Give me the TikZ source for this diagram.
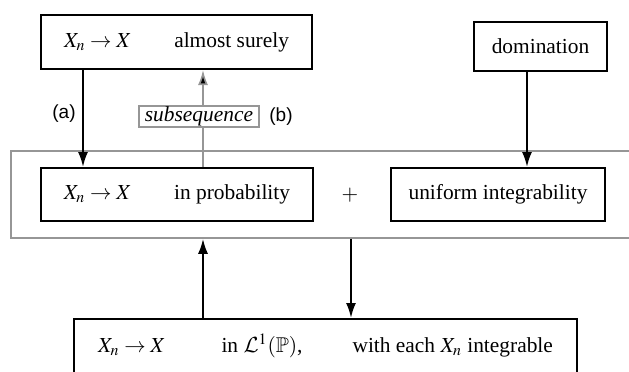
\documentclass[tikz,border=0pt]{standalone}
\usepackage{mathptmx}
\usepackage{amssymb}
\usepackage{fontspec}
\setmainfont{Liberation Serif}
\newfontfamily\labelsans{Liberation Sans}
\usetikzlibrary{arrows.meta}
\DeclareMathAlphabet{\mathcalcm}{OMS}{cmsy}{m}{n}
\definecolor{grayc}{RGB}{150,150,150}
\newcommand\mainfs{\fontsize{10.7}{13}\selectfont}
\newcommand\labfs{\labelsans\fontsize{9.5}{11}\selectfont}
\begin{document}
\begin{tikzpicture}[x=0.5pt,y=-0.5pt,
  box/.style={draw=black, line width=1pt, fill=white, inner sep=0pt, font=\mainfs},
  grayframe/.style={draw=grayc, line width=0.8pt, inner sep=0pt},
  arr/.style={line width=1pt, -{Latex[length=7.5pt,width=5pt]}},
  grayline/.style={draw=grayc, line width=0.8pt},
  grayarr/.style={draw=grayc, line width=0.8pt, -{Latex[length=7.5pt,width=5pt,fill=black]}},
  lab/.style={font=\labfs, inner sep=0pt}]
\useasboundingbox (0,0) rectangle (629,371);
\clip (0,0) rectangle (629,371);
% outer grey frame (runs past the right edge)
\node[grayframe, minimum width=324.5pt, minimum height=43.5pt] (outer) at (335.5,194.5) {};
% boxes
\node[box, minimum width=135.5pt, minimum height=27pt] (top) at (176.5,42) {$X_n\to X$\qquad almost surely};
\node[box, minimum width=66.5pt, minimum height=24.5pt] (dom) at (540.5,46.5) {domination};
\node[box, minimum width=136pt, minimum height=26.5pt] (prob) at (177,194.5) {$X_n\to X$\qquad in probability};
\node[box, minimum width=107pt, minimum height=26.5pt] (ui) at (498,194.5) {uniform integrability};
\node[font=\mainfs, inner sep=0pt] (plus) at (350,195) {$+$};
\node[box, minimum width=251.5pt, minimum height=27pt] (bot) at (325.5,346) {$X_n\to X$\hspace{28pt}in $\mathcalcm{L}^1(\mathbb{P})$,\hspace{25pt}with each $X_n$ integrable};
\node[grayframe, fill=white, minimum width=60pt, minimum height=10.5pt, font=\mainfs\itshape] (sub) at (199,116.5) {subsequence};
\node[lab] (la) at (64,114) {(a)};
\node[lab] (lb) at (281,117) {(b)};
% x positions of connectors
\coordinate (xa) at (83,0);
\coordinate (xg) at (203,0);
\coordinate (xd) at (527,0);
\coordinate (xw) at (351,0);
% connectors
\draw[arr] (top.south -| xa) -- (prob.north -| xa);
\draw[grayline] (prob.north -| xg) -- (sub.south -| xg);
\draw[grayarr] (sub.north -| xg) -- (top.south -| xg);
\draw[arr] (dom.south -| xd) -- (ui.north -| xd);
\draw[arr] (bot.north -| xg) -- (outer.south -| xg);
\draw[arr] (outer.south -| xw) -- (bot.north -| xw);
\end{tikzpicture}
\end{document}
